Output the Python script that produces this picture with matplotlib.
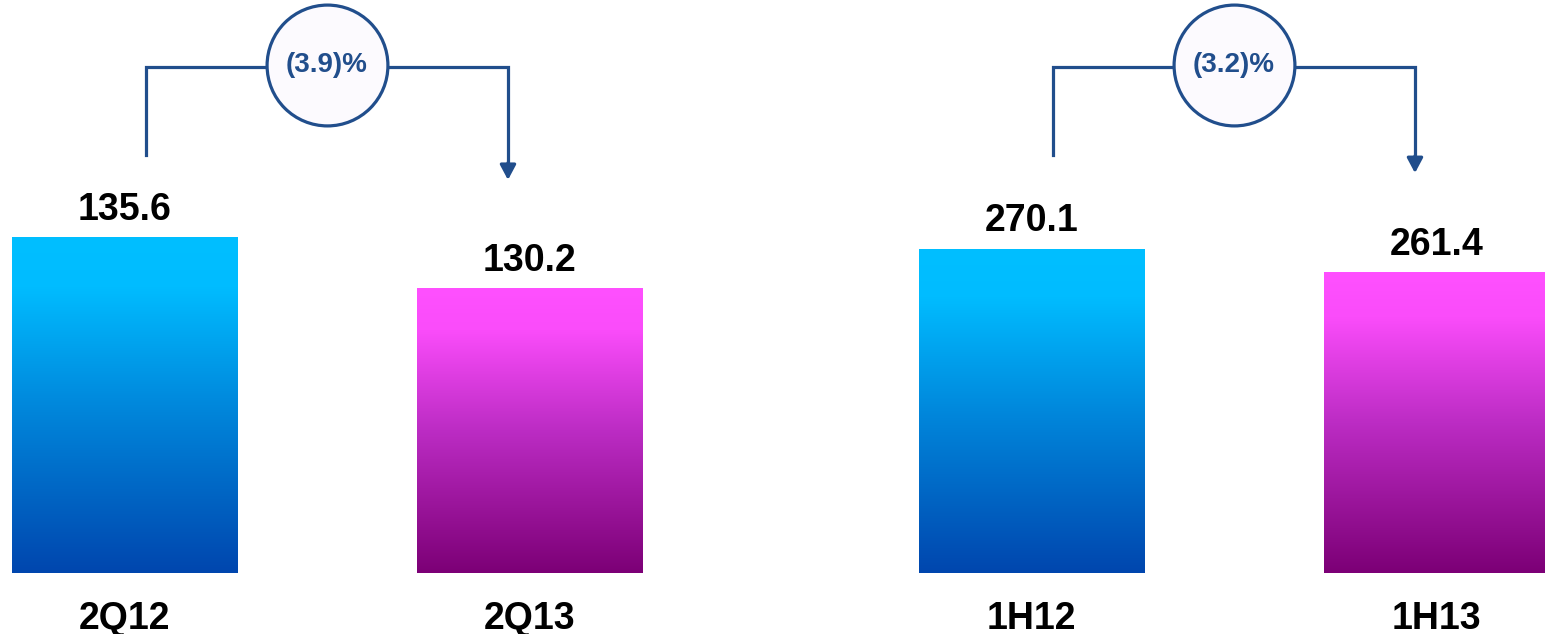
import matplotlib.pyplot as plt
import numpy as np
from matplotlib.colors import LinearSegmentedColormap
from matplotlib.transforms import blended_transform_factory

plt.rcParams['font.family'] = ['Liberation Sans', 'DejaVu Sans']

# quarterly comparison
quarter_labels = ['2Q12', '2Q13']
quarter_values = [135.6, 130.2]
quarter_change = '(3.9)%'

# half-year comparison
half_labels = ['1H12', '1H13']
half_values = [270.1, 261.4]
half_change = '(3.2)%'

navy = '#214E8C'
blue_cmap = LinearSegmentedColormap.from_list(
    'blue', [(0, '#0046AE'), (0.5, '#0088DC'), (0.85, '#00BCFF'), (1, '#00BFFF')])
magenta_cmap = LinearSegmentedColormap.from_list(
    'magenta', [(0, '#7C0076'), (0.5, '#BC2CC4'), (0.85, '#FA4CFA'), (1, '#FF50FF')])

W, H = 1545, 634
fig = plt.figure(figsize=(W / 100, H / 100), dpi=100)


def panel(left_px, right_px, xlim, ylim, labels, values, change, arrow_tip):
    ax = fig.add_axes([left_px / W, 61 / H, (right_px - left_px) / W, 573 / H])
    ax.set_axis_off()
    trans = blended_transform_factory(ax.transData, ax.transAxes)
    width = 0.556
    grad = np.linspace(0, 1, 256).reshape(-1, 1)

    bars = ax.bar(range(len(values)), np.array(values) - ylim[0], width,
                  bottom=ylim[0], color='none', edgecolor='none')
    for bar, cmap in zip(bars, [blue_cmap, magenta_cmap]):
        x0 = bar.get_x()
        im = ax.imshow(grad, cmap=cmap, origin='lower', aspect='auto',
                       extent=(x0, x0 + bar.get_width(), ylim[0], bar.get_y() + bar.get_height()))
        im.set_clip_path(bar)

    for i, (lab, v) in enumerate(zip(labels, values)):
        ax.annotate(f'{v:.1f}', xy=(i, v), xytext=(0, 12.5), textcoords='offset points',
                    ha='center', va='baseline', fontsize=27, fontweight='bold')
        ax.annotate(lab, xy=(i, 0), xycoords=trans, xytext=(0, -40),
                    textcoords='offset points', ha='center', va='baseline',
                    fontsize=27, fontweight='bold', annotation_clip=False)

    # change bracket from first bar to second
    xl, xr, yh = 0.053, 1 - 0.053, 0.883
    ax.plot([xl, xl, xr, xr], [0.7295, yh, yh, arrow_tip + 0.02], color=navy, lw=2.3,
            transform=trans, clip_on=False, solid_joinstyle='miter')
    ax.annotate('', xy=(xr, arrow_tip), xycoords=trans, xytext=(xr, arrow_tip + 0.03),
                textcoords=trans,
                arrowprops=dict(arrowstyle='-|>,head_length=0.45,head_width=0.24',
                                mutation_scale=20, color=navy, lw=2.3,
                                shrinkA=0, shrinkB=0))
    ax.plot(0.5, 0.887, 'o', ms=87, mfc='#FCFAFE', mec=navy, mew=2.3,
            transform=trans, clip_on=False, zorder=5)
    ax.text(0.5, 0.887, change, transform=trans, ha='center', va='center',
            fontsize=20, fontweight='bold', color=navy, zorder=6)

    ax.set_xlim(*xlim)
    ax.set_ylim(*ylim)


panel(0, 700, (-0.307, 1.421), (100, 160.7), quarter_labels, quarter_values,
      quarter_change, 0.686)
panel(760, 1545, (-0.670, 1.268), (150, 362.2), half_labels, half_values,
      half_change, 0.698)

fig.savefig('out.png', dpi=100)
